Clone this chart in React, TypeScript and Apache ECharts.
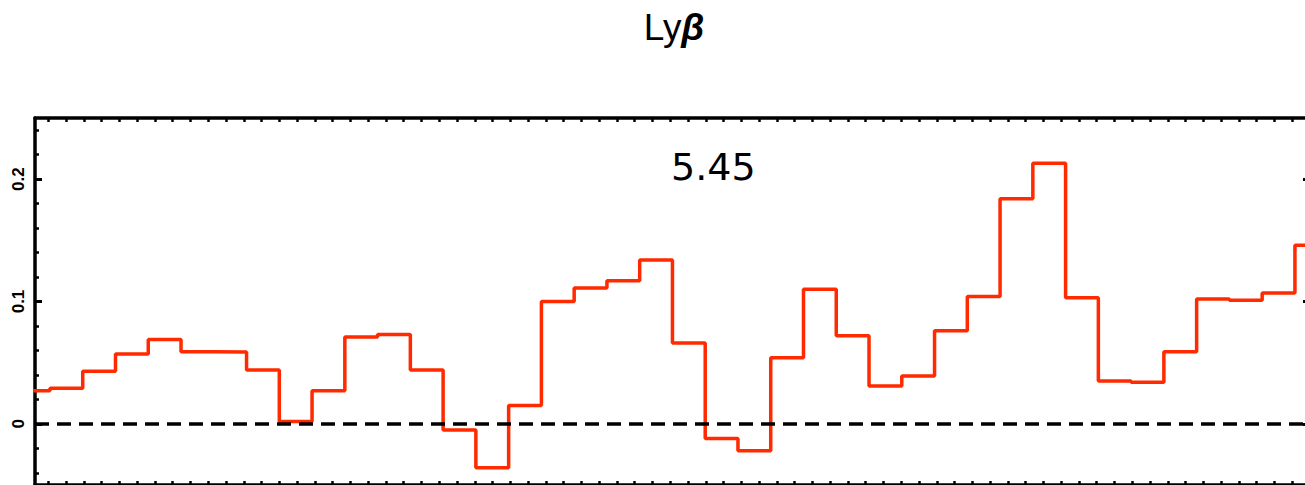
import { useEffect, useRef } from "react";
import * as echarts from "echarts";

// Binned flux, one value per channel (channel k spans [k, k+1]).
const flux = [
  0.027, 0.029, 0.043, 0.057, 0.069, 0.059, 0.0588, 0.044, 0.002, 0.027,
  0.071, 0.073, 0.044, -0.005, -0.036, 0.015, 0.1, 0.111, 0.117, 0.134,
  0.066, -0.012, -0.022, 0.054, 0.11, 0.072, 0.031, 0.039, 0.076, 0.104,
  0.184, 0.213, 0.103, 0.035, 0.034, 0.059, 0.102, 0.101, 0.107, 0.146,
];

const yMajorTicks = [0, 0.1, 0.2];
const yMinorTicks = [
  -0.04, -0.02, 0, 0.02, 0.04, 0.06, 0.08, 0.1, 0.12, 0.14, 0.16, 0.18, 0.2,
  0.22, 0.24,
];

const titleLine = "Lyβ";
const panelValue = "5.45";

// Visible channel window and x tick spacing
const X_MIN = 0.543;
const X_MAX = 39.46;
const X_TICK_START = 0.949;
const X_TICK_STEP = 0.5424;
const X_TICK_COUNT = 72;

export default function App() {
  const ref = useRef<HTMLDivElement>(null);

  useEffect(() => {
    if (!ref.current) return;
    const chart = echarts.init(ref.current, null, { renderer: "svg" });

    const stepData: number[][] = flux.map((v, i) => [i, v]);
    stepData.push([flux.length, flux[flux.length - 1]]);

    const xTicks: number[] = [];
    for (let k = 0; k < X_TICK_COUNT; k++) xTicks.push(X_TICK_START + k * X_TICK_STEP);

    const frameLine = {
      show: true,
      onZero: false,
      lineStyle: { color: "#000", width: 3.5 },
    };

    const xAxisBase = (position: "top" | "bottom") => ({
      type: "value" as const,
      position,
      min: X_MIN,
      max: X_MAX,
      axisLine: frameLine,
      axisTick: {
        show: true,
        inside: true,
        length: 4,
        customValues: xTicks,
        lineStyle: { color: "#000", width: 2.5 },
      },
      axisLabel: { show: false },
      splitLine: { show: false },
    });

    const yAxisBase = (
      position: "left" | "right",
      major: boolean,
      labels: boolean
    ) => ({
      type: "value" as const,
      position,
      min: -0.05,
      max: 0.25,
      axisLine: major ? frameLine : { show: false, onZero: false },
      axisTick: {
        show: true,
        inside: true,
        length: major ? 7 : 4,
        customValues: major ? yMajorTicks : yMinorTicks,
        lineStyle: { color: "#000", width: major ? 3 : 2.5 },
      },
      axisLabel: labels
        ? {
            show: true,
            customValues: yMajorTicks,
            rotate: 90,
            margin: 8,
            color: "#000",
            fontSize: 17,
            fontWeight: 900,
            fontFamily: "Liberation Sans",
          }
        : { show: false },
      splitLine: { show: false },
    });

    chart.setOption({
      animation: false,
      backgroundColor: "#fff",
      grid: {
        left: 35,
        top: 118,
        width: 1275,
        height: 367,
        outerBoundsMode: "none",
        containLabel: false,
      },
      xAxis: [xAxisBase("bottom"), xAxisBase("top")],
      yAxis: [
        yAxisBase("left", true, true),
        yAxisBase("left", false, false),
        yAxisBase("right", true, false),
        yAxisBase("right", false, false),
      ],
      graphic: [
        {
          type: "text",
          x: 674,
          y: 27,
          style: {
            text: "{a|Ly}{b|β}",
            align: "center",
            verticalAlign: "middle",
            fill: "#000",
            rich: {
              a: { fontSize: 37, fontFamily: "Liberation Sans", fill: "#000" },
              b: {
                fontSize: 37,
                fontFamily: "Liberation Sans",
                fontStyle: "italic",
                fontWeight: "bold",
                fill: "#000",
              },
            },
          },
        },
        {
          type: "text",
          x: 671,
          y: 167,
          style: {
            text: panelValue,
            fontSize: 38,
            fontFamily: "DejaVu Sans",
            fill: "#000",
            verticalAlign: "middle",
          },
        },
      ],
      series: [
        {
          name: titleLine,
          type: "line",
          xAxisIndex: 0,
          yAxisIndex: 0,
          step: "end",
          data: stepData,
          showSymbol: false,
          lineStyle: { color: "#ff2a00", width: 3.5 },
          z: 2,
          markLine: {
            silent: true,
            symbol: ["none", "none"],
            label: { show: false },
            lineStyle: { color: "#000", width: 3.5, type: [14, 8] },
            data: [{ yAxis: 0 }],
          },
        },
      ],
    });

    return () => chart.dispose();
  }, []);

  return (
    <div
      ref={ref}
      style={{
        position: "fixed",
        left: 0,
        top: 0,
        width: 1305,
        height: 485,
        background: "#fff",
      }}
    />
  );
}
